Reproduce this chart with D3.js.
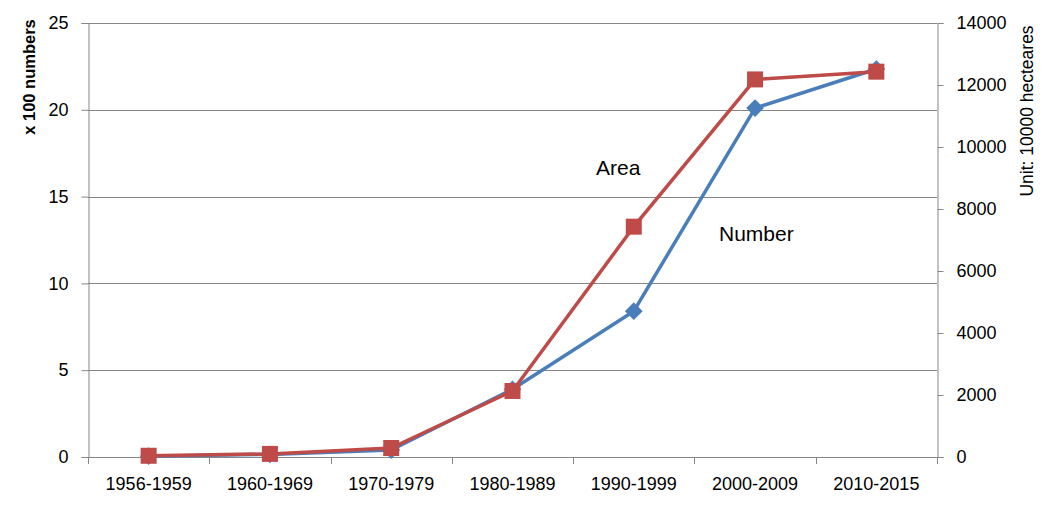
<!DOCTYPE html>
<html><head><meta charset="utf-8">
<script src="https://cdn.jsdelivr.net/npm/d3@7"></script>
<style>body{margin:0;background:#fff}svg{display:block}text{font-family:"Liberation Sans",Arial,sans-serif;fill:#000}</style>
</head><body><svg id="c" width="1047" height="509"></svg>
<script>
const categories = ["1956-1959","1960-1969","1970-1979","1980-1989","1990-1999","2000-2009","2010-2015"];
const numberValues = [0.05, 0.15, 0.4, 3.9, 8.4, 20.1, 22.35];
const areaValues = [40, 100, 290, 2130, 7430, 12180, 12430];
const leftTicks = [0,5,10,15,20,25];
const rightTicks = [0,2000,4000,6000,8000,10000,12000,14000];

const svg = d3.select("#c");
const L = 88, R = 937, T = 23, B = 457;
const x = d3.scaleBand().domain(categories).range([L, R]).padding(0);
const yL = d3.scaleLinear().domain([0,25]).range([B, T]);
const yR = d3.scaleLinear().domain([0,14000]).range([B, T]);
const gray = "#868686";

// gridlines
svg.append("g").selectAll("line").data(leftTicks.filter(d=>d>0)).join("line")
  .attr("x1", L).attr("x2", R).attr("y1", d=>Math.round(yL(d))+0.5).attr("y2", d=>Math.round(yL(d))+0.5)
  .attr("stroke", gray).attr("stroke-width", 1);

// left axis
const gl = svg.append("g").attr("transform", `translate(${L+0.5},0)`)
  .call(d3.axisLeft(yL).tickValues(leftTicks).tickSize(7).tickPadding(13));
// right axis
const gr = svg.append("g").attr("transform", `translate(${R+0.5},0)`)
  .call(d3.axisRight(yR).tickValues(rightTicks).tickFormat(d3.format("d")).tickSize(6).tickPadding(13));
// bottom axis
const gb = svg.append("g").attr("transform", `translate(0,${B+0.5})`)
  .call(d3.axisBottom(x).tickSize(0).tickPadding(20));
// category boundary ticks
svg.append("g").selectAll("line").data(d3.range(categories.length+1)).join("line")
  .attr("x1", i=>Math.round(L + i*x.bandwidth())+0.5).attr("x2", i=>Math.round(L + i*x.bandwidth())+0.5)
  .attr("y1", B).attr("y2", B+7).attr("stroke", gray);

[gl,gr,gb].forEach(g=>{
  g.select(".domain").attr("stroke", gray);
  g.selectAll(".tick line").attr("stroke", gray);
  g.selectAll("text").attr("font-family","Liberation Sans, Arial, sans-serif").attr("font-size", 18).attr("fill","#000");
});
gb.select(".domain").attr("d", `M${L},0H${R}`);

const cx = d => x(d) + x.bandwidth()/2;

// Number line (blue)
const blue = "#4a7ebb", red = "#be4b48";
svg.append("path").datum(categories.map((c,i)=>[cx(c), yL(numberValues[i])]))
  .attr("d", d3.line()).attr("fill","none").attr("stroke", blue).attr("stroke-width", 3.5).attr("stroke-linejoin","round");
svg.append("g").selectAll("path").data(categories).join("path")
  .attr("d", d3.symbol(d3.symbolDiamond2, 200)())
  .attr("transform", (c,i)=>`translate(${cx(c)},${yL(numberValues[i])})`)
  .attr("fill", blue);

// Area line (red)
svg.append("path").datum(categories.map((c,i)=>[cx(c), yR(areaValues[i])]))
  .attr("d", d3.line()).attr("fill","none").attr("stroke", red).attr("stroke-width", 3.5).attr("stroke-linejoin","round");
svg.append("g").selectAll("rect").data(categories).join("rect")
  .attr("x", c=>cx(c)-8).attr("y", (c,i)=>yR(areaValues[i])-8)
  .attr("width", 16).attr("height", 16).attr("fill", red);

// annotations
svg.append("text").attr("x", 596).attr("y", 175).attr("font-size", 21).text("Area");
svg.append("text").attr("x", 719).attr("y", 241).attr("font-size", 21).text("Number");

// axis titles
svg.append("text").attr("transform","translate(35,77) rotate(-90)").attr("text-anchor","middle")
  .attr("font-size", 16.5).attr("font-weight","bold").text("x 100 numbers");
svg.append("text").attr("transform","translate(1033,111) rotate(-90)").attr("text-anchor","middle")
  .attr("font-size", 17.5).text("Unit: 10000 hecteares");
</script></body></html>
